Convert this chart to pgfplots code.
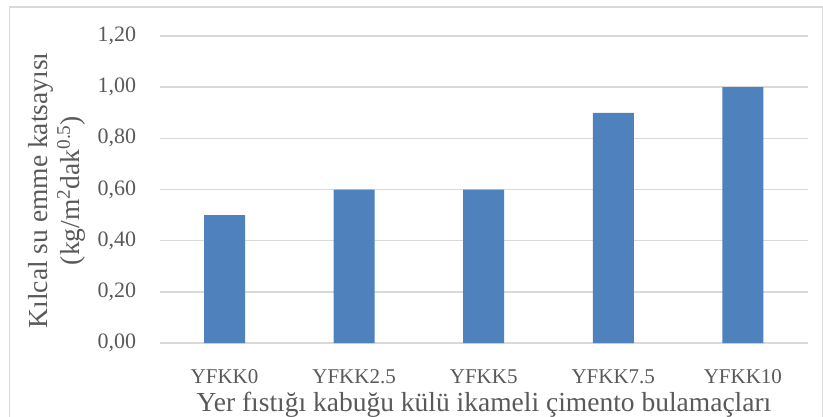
\documentclass[border=0pt]{standalone}
\usepackage{fontspec}
\setmainfont{Liberation Serif}
\usepackage{pgfplots}
\pgfplotsset{compat=1.18}
\definecolor{barblue}{HTML}{4F81BD}
\definecolor{gridgray}{HTML}{D9D9D9}
\definecolor{txtgray}{HTML}{595959}
\begin{document}
\begin{tikzpicture}[x=1pt,y=1pt]
\useasboundingbox (0,0) rectangle (823,416);
\draw[gridgray, line width=1.2pt] (9.8,-5) rectangle (822.2,409);
\begin{axis}[
  at={(159.7pt,73pt)}, anchor=south west,
  width=648pt, height=307pt, scale only axis,
  xmin=-0.5, xmax=4.5, ymin=0, ymax=1.2,
  axis line style={draw=none},
  ymajorgrids, grid style={gridgray, line width=1.6pt},
  major tick length=0pt,
  xtick=data,
  xticklabels={YFKK0,YFKK2.5,YFKK5,YFKK7.5,YFKK10},
  ytick={0,0.2,0.4,0.6,0.8,1.0,1.2},
  /pgf/number format/fixed,
  /pgf/number format/fixed zerofill,
  /pgf/number format/precision=2,
  /pgf/number format/use comma,
  /pgf/number format/assume math mode=true,
  xticklabel style={font=\fontsize{21}{24}\selectfont, text=txtgray, anchor=base, yshift=-40pt},
  yticklabel style={font=\fontsize{22}{24}\selectfont, text=txtgray, xshift=-20pt},
  clip=false,
]
\addplot[ybar, bar width=41pt, fill=barblue, draw=none] coordinates {
 (0,0.50) (1,0.60) (2,0.60) (3,0.90) (4,1.00)};
\end{axis}
\node[text=txtgray, font=\fontsize{27.5}{30}\selectfont, rotate=90, anchor=base] at (47,225.5) {Kılcal su emme katsayısı};
\node[text=txtgray, font=\fontsize{27.5}{30}\selectfont, rotate=90, anchor=base] at (79,225.5) {(kg/m\textsuperscript{2}dak\textsuperscript{0.5})};
\node[text=txtgray, font=\fontsize{27.5}{30}\selectfont, anchor=base] at (484,4.5) {Yer fıstığı kabuğu külü ikameli çimento bulamaçları};
\end{tikzpicture}
\end{document}
